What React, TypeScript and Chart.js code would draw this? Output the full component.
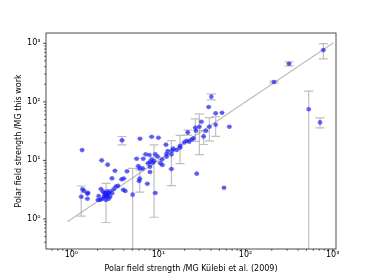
import React, { useEffect, useRef } from "react";
import { Chart, registerables } from "chart.js";

Chart.register(...registerables);

// Polar field strength (MG) from Külebi et al. (2009)
const kulebiB = [
  782, 316, 212, 531, 716, 40.5, 37.7, 45.4, 53.7, 65.2,
  45.4, 31.1, 29.5, 26.5, 27, 38.4, 35, 33, 25.2, 21.7,
  21.1, 22.5, 19.8, 24.0, 17.7, 17.7, 14.8, 16.2, 14.4, 12.8,
  14.1, 14.1, 12.2, 12.4, 12.4, 11.0, 11.1, 9.8, 10.0, 8.36,
  6.14, 3.82, 9.2, 8.9, 8.6, 8.0, 8.0, 7.87, 6.7, 5.62,
  5.88, 6.1, 8.0, 6.6, 6.0, 6.1, 7.46, 9.2, 5.06, 7.13,
  7.6, 8.36, 10.5, 27.5, 56.6,
  1.33, 2.23, 2.61, 3.17, 4.36, 2.93, 3.78, 4.0, 3.43, 3.95,
  4.16, 1.35, 1.40, 1.30, 1.53, 1.55, 1.53, 2.19, 2.31, 2.41,
  2.59, 2.78, 3.06, 2.06, 2.13, 2.25, 2.37, 2.5, 2.59, 2.5,
  2.68, 2.78, 2.5, 2.59, 2.41, 2.68, 2.93, 2.02, 3.25,
];

// Polar field strength (MG) from this work
const thisWorkB = [
  766, 448, 218, 75, 44.6, 122, 81.5, 63.6, 65.3, 37.6,
  40.7, 45.8, 37.6, 36.2, 32.2, 37.6, 32, 25.7, 23.8, 30.1,
  21.7, 20.9, 20.3, 22.8, 16.5, 17.8, 15.9, 15.1, 14.7, 14.5,
  12.7, 7.13, 18.6, 12.9, 11.6, 10.4, 8.35, 11.6, 24.4, 25.4,
  23.5, 22, 12.7, 9.77, 9.13, 9.4, 7.8, 12.4, 10.7, 10.7,
  8.0, 7.3, 6.34, 7.3, 4.45, 4.88, 4.0, 2.78, 2.6, 12.7,
  8.9, 10.4, 9.0, 5.94, 3.42,
  15.0, 10.0, 8.46, 6.68, 6.5, 4.94, 4.75, 4.9, 3.7, 3.16,
  3.0, 3.21, 3.0, 2.39, 2.7, 2.8, 2.22, 3.25, 2.93, 2.8,
  2.96, 2.93, 3.21, 2.47, 2.11, 2.19, 2.34, 2.47, 2.45, 2.11,
  2.22, 2.4, 2.67, 2.64, 2.53, 2.74, 2.74, 2.11, 3.58,
];

const kulebiErr = [
  60, 25, 17, 0, 0, 0, 3, 3.5, 4, 5,
  0, 2.5, 2, 2, 2, 3, 3, 2.5, 2, 1.5,
  1.5, 1.5, 1.5, 2, 1.5, 1.5, 1.2, 1.2, 1.2, 1,
  1, 1.2, 1, 1, 1, 0.9, 0.9, 0.8, 0.8, 0.7,
  0.5, 0.3, 0.7, 0.7, 0.7, 0.6, 0.6, 0.6, 0.5, 0.5,
  0.5, 0.5, 0.6, 0.5, 0.5, 0.5, 0.6, 0.8, 0, 0.6,
  0.6, 0.7, 0.8, 2, 4,
  0.1, 0.18, 0.2, 0.25, 0.3, 0.22, 0.3, 0.3, 0.25, 0.3,
  0.3, 0.1, 0.1, 0.1, 0.12, 0.12, 0.12, 0.17, 0.18, 0.18,
  0.2, 0.2, 0.23, 0.16, 0.16, 0.17, 0.18, 0.19, 0.2, 0.19,
  0.2, 0.2, 0.19, 0.2, 0.18, 0.2, 0.22, 0.15, 0.25,
];

const thisWorkErr = [
  225, 35, 8, 78, 8.7, 14, 0, 0, 0, 0,
  15, 0, 25, 15, 0, 16, 0, 7, 0, 3,
  0, 0, 0, 0, 0, 9, 0, 0, 0, 0,
  9, 0, 0, 0, 0, 0, 0, 0, 0, 0,
  0, 3.6, 0, 8.7, 0, 0, 0, 0, 0, 0,
  0, 0, 0, 0, 0, 2.0, 0, 0, 4.7, 0,
  0, 0, 0, 0, 0,
  0, 0, 0, 0, 0, 0, 0, 0, 0, 0,
  0, 0, 0, 1.27, 0, 0, 0, 0, 0, 0,
  0, 0, 0, 0, 0, 0, 0, 1.6, 0, 0,
  0, 0, 0, 0, 0, 0, 0, 0, 0,
];

const oneToOneLine = [0.9, 1020];

const xTickValues = [1, 10, 100, 1000];
const xTickLabels = ["10⁰", "10¹", "10²", "10³"];
const yTickValues = [1, 10, 100, 1000];
const yTickLabels = ["10⁰", "10¹", "10²", "10³"];

const xTitle = "Polar field strength /MG Külebi et al. (2009)";
const yTitle = "Polar field strength /MG this work";

const FONT = "'DejaVu Sans', sans-serif";

const errorBarPlugin = {
  id: "errorBars",
  beforeDatasetsDraw(chart: any) {
    const { ctx, chartArea } = chart;
    const xs = chart.scales.x;
    const ys = chart.scales.y;
    ctx.save();
    ctx.beginPath();
    ctx.rect(chartArea.left, chartArea.top, chartArea.right - chartArea.left, chartArea.bottom - chartArea.top);
    ctx.clip();
    ctx.strokeStyle = "rgba(170,170,170,0.75)";
    ctx.lineWidth = 1.2;
    const cap = 4.5;
    for (let i = 0; i < kulebiB.length; i++) {
      const px = xs.getPixelForValue(kulebiB[i]);
      const py = ys.getPixelForValue(thisWorkB[i]);
      const dy = thisWorkErr[i];
      if (dy > 0) {
        const top = ys.getPixelForValue(thisWorkB[i] + dy);
        const lowV = thisWorkB[i] - dy;
        const bottom = lowV > 0 ? ys.getPixelForValue(lowV) : chartArea.bottom + 20;
        ctx.beginPath();
        ctx.moveTo(px, top);
        ctx.lineTo(px, bottom);
        ctx.moveTo(px - cap, top);
        ctx.lineTo(px + cap, top);
        if (lowV > 0) {
          ctx.moveTo(px - cap, bottom);
          ctx.lineTo(px + cap, bottom);
        }
        ctx.stroke();
      }
      const dx = kulebiErr[i];
      if (dx > 0) {
        const l = xs.getPixelForValue(kulebiB[i] - dx);
        const r = xs.getPixelForValue(kulebiB[i] + dx);
        ctx.beginPath();
        ctx.moveTo(l, py);
        ctx.lineTo(r, py);
        ctx.stroke();
      }
    }
    ctx.restore();
  },
  afterDraw(chart: any) {
    const { ctx, chartArea } = chart;
    const xs = chart.scales.x;
    const ys = chart.scales.y;
    const { left, right, top, bottom } = chartArea;
    ctx.save();
    ctx.strokeStyle = "#222";
    ctx.lineWidth = 0.8;
    ctx.strokeRect(left, top, right - left, bottom - top);
    ctx.beginPath();
    for (let e = -1; e <= 3; e++) {
      for (let m = 1; m <= 9; m++) {
        const v = m * Math.pow(10, e);
        const len = m === 1 ? 3 : 1.7;
        if (v >= xs.min && v <= xs.max) {
          const p = xs.getPixelForValue(v);
          ctx.moveTo(p, bottom);
          ctx.lineTo(p, bottom + len);
        }
        if (v >= ys.min && v <= ys.max) {
          const p = ys.getPixelForValue(v);
          ctx.moveTo(left, p);
          ctx.lineTo(left - len, p);
        }
      }
    }
    ctx.stroke();
    ctx.restore();
  },
};

export default function App() {
  const canvasRef = useRef<HTMLCanvasElement | null>(null);

  useEffect(() => {
    if (!canvasRef.current) return;
    Chart.defaults.font.family = FONT;
    const points = kulebiB.map((x, i) => ({ x, y: thisWorkB[i] }));
    const chart = new Chart(canvasRef.current, {
      type: "scatter",
      data: {
        datasets: [
          {
            data: points,
            backgroundColor: "rgba(25,25,255,0.65)",
            borderWidth: 0,
            pointRadius: 2.3,
          },
          {
            data: oneToOneLine.map((v) => ({ x: v, y: v })),
            showLine: true,
            borderColor: "rgba(150,150,150,0.65)",
            borderWidth: 1.2,
            pointRadius: 0,
          },
        ],
      },
      plugins: [errorBarPlugin],
      options: {
        responsive: false,
        animation: false,
        layout: { padding: { left: 0, right: 38, top: 33, bottom: 0 } },
        plugins: { legend: { display: false }, tooltip: { enabled: false } },
        scales: {
          x: {
            type: "logarithmic",
            min: 0.512,
            max: 1092,
            bounds: "data",
            grid: { display: false, drawTicks: false },
            border: { display: false },
            afterBuildTicks: (scale: any) => {
              scale.ticks = xTickValues.map((v) => ({ value: v }));
            },
            afterFit: (scale: any) => {
              scale.height = 31;
            },
            ticks: {
              autoSkip: false,
              maxRotation: 0,
              padding: 1.5,
              color: "#000",
              font: { size: 8, family: FONT },
              callback: (_v: any, i: number) => xTickLabels[i],
            },
            title: {
              display: true,
              text: xTitle,
              color: "#000",
              font: { size: 8, family: FONT },
              padding: { top: 0, bottom: 6.2 },
            },
          },
          y: {
            type: "logarithmic",
            min: 0.307,
            max: 1500,
            bounds: "data",
            grid: { display: false, drawTicks: false },
            border: { display: false },
            afterBuildTicks: (scale: any) => {
              scale.ticks = yTickValues.map((v) => ({ value: v }));
            },
            afterFit: (scale: any) => {
              scale.width = 46;
            },
            ticks: {
              autoSkip: false,
              padding: 5.5,
              color: "#000",
              font: { size: 8, family: FONT },
              callback: (_v: any, i: number) => yTickLabels[i],
            },
            title: {
              display: true,
              text: yTitle,
              color: "#000",
              font: { size: 8, family: FONT },
              padding: { top: 14.5, bottom: 0 },
            },
          },
        },
      },
    } as any);
    return () => chart.destroy();
  }, []);

  return (
    <div style={{ position: "absolute", left: 0, top: 0, width: 374, height: 280 }}>
      <canvas ref={canvasRef} width={374} height={280} style={{ display: "block" }} />
    </div>
  );
}
